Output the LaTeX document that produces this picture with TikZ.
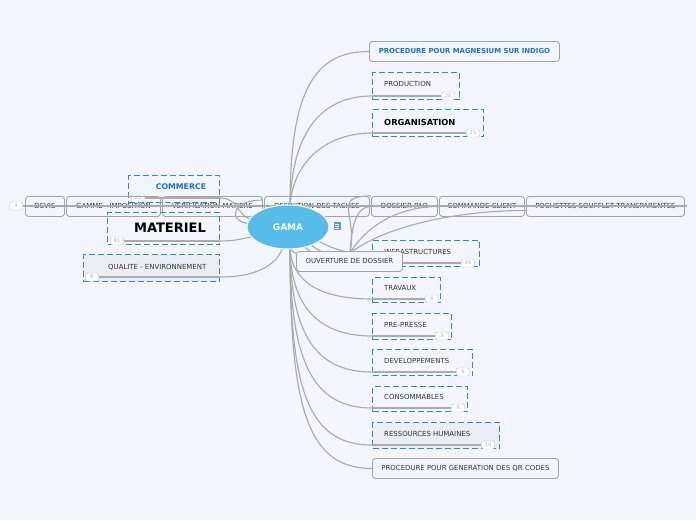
\documentclass[tikz,border=0pt]{standalone}
\usepackage{fontspec}
\setmainfont{DejaVu Sans}
\usetikzlibrary{shapes.geometric,calc}
\definecolor{bgc}{HTML}{F3F6FE}
\definecolor{lnk}{HTML}{ABABAB}
\definecolor{dblue}{HTML}{2A86EA}
\definecolor{tblue}{HTML}{1A6FDC}
\definecolor{gamac}{HTML}{56BDEA}
\definecolor{bord}{HTML}{A3A3A3}
\definecolor{txt}{HTML}{333333}
\definecolor{grayfill}{HTML}{ECEEF5}
\definecolor{badgec}{HTML}{B0B0B0}
\newcommand{\fs}{\fontsize{6.95}{8}\selectfont}
\begin{document}
\begin{tikzpicture}[x=1pt,y=-1pt,
  lnk/.style={draw=lnk,line width=1.15pt},
  sbox/.style={draw=bord,line width=0.9pt,rounded corners=3pt,inner sep=0pt,minimum height=20pt,font=\fs,text=txt,anchor=north west},
  dbox/.style={draw=dblue,line width=1.1pt,dash pattern=on 6pt off 3pt,inner sep=0pt,anchor=north west},
  lbl/.style={font=\fs,text=txt,anchor=west,inner sep=0pt},
  badge/.style={draw=badgec!80,fill=white,rounded corners=2pt,font=\fontsize{5}{6}\selectfont,text=badgec,minimum width=13pt,minimum height=8pt,inner sep=1pt}]
\fill[bgc] (0,0) rectangle (696,520);
\useasboundingbox (0,0) rectangle (696,520);

% ---------- boxes (no fill) ----------
\node[sbox,minimum width=190pt,font=\fontsize{6.9}{8}\selectfont\bfseries,text=tblue] (mag) at (369,41) {PROCEDURE POUR MAGNESIUM SUR INDIGO};

\node[dbox,minimum width=87pt,minimum height=27pt] (prodbox) at (372,72) {};
\node[lbl] (prodtxt) at (384,84) {PRODUCTION};
\node[badge] (prodb) at (448,96) {20};

\node[dbox,minimum width=111pt,minimum height=27pt] (orgbox) at (372,109) {};
\node[lbl,font=\fontsize{8.3}{9}\selectfont\bfseries,text=black] (orgtxt) at (384,122) {ORGANISATION};
\node[badge] (orgb) at (473,133) {15};

\node[dbox,minimum width=91pt,minimum height=27pt] (commbox) at (128,175) {};
\node[font=\fontsize{7.8}{9}\selectfont\bfseries,text=tblue,inner sep=0pt] (commtxt) at (181,187) {COMMERCE};
\node[badge] (commb) at (138,198) {22};

% chain
\node[badge] (devb) at (16,206) {4};
\node[sbox,minimum width=39pt] (devis) at (25,196) {DEVIS};
\node[sbox,minimum width=94pt] (gamme) at (66,196) {GAMME - IMPOSITION};
\node[sbox,minimum width=100pt] (verif) at (162,196) {VERIFICATION MATIERE};
\node[sbox,minimum width=105pt] (defin) at (264,196) {DEFINITION DES TACHES};
\node[sbox,minimum width=66pt] (pao) at (371,196) {DOSSIER PAO};
\node[sbox,minimum width=85pt] (cmd) at (439,196) {COMMANDE CLIENT};
\node[sbox,minimum width=158pt] (poch) at (526,196) {POCHETTES SOUFFLET TRANSPARENTES};
\coordinate (chainend) at (687,206);

\node[dbox,minimum width=112pt,minimum height=32pt] (matbox) at (107,212) {};
\node[font=\fontsize{13}{15}\selectfont\bfseries,text=black,inner sep=0pt] (mattxt) at (170,228) {MATERIEL};
\node[badge] (matb) at (117,241) {81};

\node[dbox,fill=grayfill,minimum width=136pt,minimum height=27pt] (qualbox) at (83,254) {};
\node[lbl] (qualtxt) at (108,267) {QUALITE - ENVIRONNEMENT};
\node[badge] (qualb) at (92,277) {6};

\node[dbox,minimum width=107pt,minimum height=26pt] (infbox) at (372,240) {};
\node[lbl] (inftxt) at (384,252) {INFRASTRUCTURES};
\node[badge] (infb) at (468,263) {45};

\node[dbox,minimum width=68pt,minimum height=25pt] (travbox) at (372,277) {};
\node[lbl] (travtxt) at (384,288) {TRAVAUX};
\node[badge] (travb) at (432,299) {6};

\node[dbox,minimum width=79pt,minimum height=26pt] (prebox) at (372,313) {};
\node[lbl] (pretxt) at (384,325) {PRE-PRESSE};
\node[badge] (preb) at (442,336) {3};

\node[dbox,minimum width=100pt,minimum height=26pt] (devbox) at (372,349) {};
\node[lbl] (devtxt) at (384,361) {DEVELOPPEMENTS};
\node[badge] (devlb) at (463,372) {9};

\node[dbox,minimum width=95pt,minimum height=25pt] (consbox) at (372,386) {};
\node[lbl] (constxt) at (384,397) {CONSOMMABLES};
\node[badge] (consb) at (458,408) {9};

\node[dbox,fill=grayfill,minimum width=127pt,minimum height=26pt] (rhbox) at (372,422) {};
\node[lbl] (rhtxt) at (384,434) {RESSOURCES HUMAINES};
\node[badge] (rhb) at (488,445) {10};

\node[sbox,minimum width=186pt] (qr) at (372,458) {PROCEDURE POUR GENERATION DES QR CODES};

% ---------- connectors ----------
\coordinate (gt) at (290,206);
\coordinate (gb) at (290,248);
\coordinate (hub) at (350,253);

\draw[lnk] (devb.east) -- (chainend);

\draw[lnk] (gt) .. controls +(0,-115) and +(-55,0) .. (mag.west);
\draw[lnk] (prodb.west) -- (prodb.west -| prodbox.west) coordinate (prodend);
\draw[lnk] (gt) .. controls +(2,-75) and +(-50,0) .. (prodend);
\draw[lnk] (orgb.west) -- (orgb.west -| orgbox.west) coordinate (orgend);
\draw[lnk] (gt) .. controls +(3,-45) and +(-45,0) .. (orgend);

\draw[lnk] (infb.west) -- (infb.west -| infbox.west) coordinate (infend);
\draw[lnk] (gb) .. controls +(6,12) and +(-40,0) .. (infend);
\draw[lnk] (travb.west) -- (travb.west -| travbox.west) coordinate (travend);
\draw[lnk] (gb) .. controls +(2,38) and +(-45,0) .. (travend);
\draw[lnk] (preb.west) -- (preb.west -| prebox.west) coordinate (preend);
\draw[lnk] (gb) .. controls +(1,62) and +(-50,0) .. (preend);
\draw[lnk] (devlb.west) -- (devlb.west -| devbox.west) coordinate (devend);
\draw[lnk] (gb) .. controls +(1,88) and +(-55,0) .. (devend);
\draw[lnk] (consb.west) -- (consb.west -| consbox.west) coordinate (consend);
\draw[lnk] (gb) .. controls +(0,112) and +(-60,0) .. (consend);
\draw[lnk] (rhb.west) -- (rhb.west -| rhbox.west) coordinate (rhend);
\draw[lnk] (gb) .. controls +(0,140) and +(-65,0) .. (rhend);
\draw[lnk] (gb) .. controls +(0,160) and +(-65,0) .. (qr.west);

% left branches
\node[ellipse,fill=gamac,draw=white,line width=1pt,minimum width=82pt,minimum height=44pt,inner sep=0pt] (gama) at (288,227) {};
\draw[lnk] (commb.east) -- (commb.east -| commbox.east) coordinate (commend);
\draw[lnk] (commend) .. controls +(18,0) and +(-12,-4) .. (gama.168);
\draw[lnk] (verif.north east) ++(0,4) coordinate (verend) .. controls +(-30,0) and +(-20,-4) .. (gama.175);
\draw[lnk] (matb.east) -- (matb.east -| matbox.east) coordinate (matend);
\draw[lnk] (matend) .. controls +(15,0) and +(-10,2) .. (gama.195);
\draw[lnk] (qualb.east) -- (qualb.east -| qualbox.east) coordinate (qualend);
\draw[lnk] (qualend) .. controls +(45,0) and +(-4,10) .. (gama.255);

% hub
\draw[lnk] (gama.335) .. controls +(12,6) .. (hub);
\draw[lnk] (gama.322) .. controls +(15,10) .. (hub);
\draw[lnk] (gama.310) .. controls +(18,14) .. (hub);
\draw[lnk] (hub) .. controls +(2,-35) and +(-12,0) .. (pao.west);
\draw[lnk] (hub) .. controls +(8,-38) and +(-40,0) .. (pao.north west);
\draw[lnk] (hub) .. controls +(20,-32) and +(-35,0) .. (cmd.west);
\draw[lnk] (hub) .. controls +(40,-30) and +(-60,0) .. ($(poch.west)+(0,4)$);

\node[sbox,fill=bgc,minimum width=106pt] (ouv) at (296,251) {OUVERTURE DE DOSSIER};

\node[font=\fontsize{9}{10}\selectfont\bfseries,text=white] (gamatxt) at (gama.center) {GAMA};
\node[fill=gamac!85!blue,draw=white,line width=0.5pt,minimum width=8pt,minimum height=9pt,inner sep=0pt] (note) at (337,226) {};
\draw[white,line width=0.6pt] ($(note.center)+(-2.2,-2)$) -- ($(note.center)+(2.2,-2)$)
  ($(note.center)+(-2.2,0)$) -- ($(note.center)+(2.2,0)$)
  ($(note.center)+(-2.2,2)$) -- ($(note.center)+(2.2,2)$);
\end{tikzpicture}
\end{document}
